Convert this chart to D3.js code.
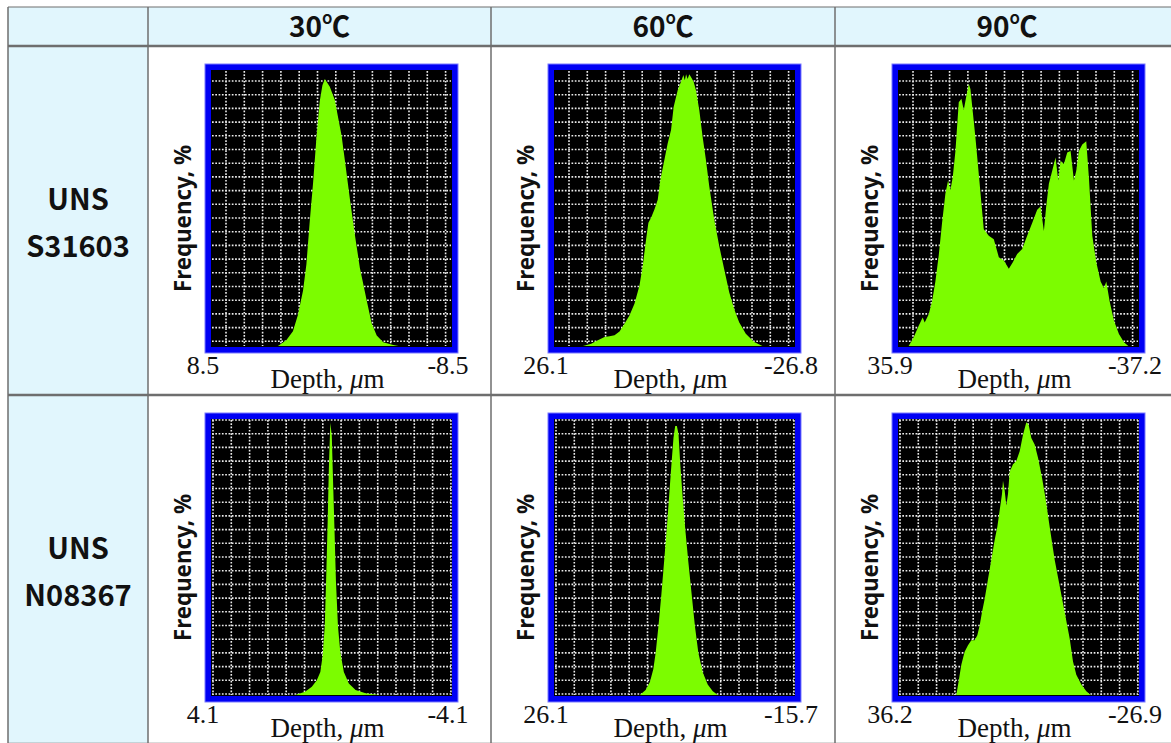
<!DOCTYPE html>
<html>
<head>
<meta charset="utf-8">
<script src="https://cdn.jsdelivr.net/npm/d3@7"></script>
<style>
  body { margin: 0; background: #fff; }
  svg { display: block; }
</style>
</head>
<body>
<script>
// Column and row headings
const temperatures = ["30℃", "60℃", "90℃"];
const alloys = [["UNS", "S31603"], ["UNS", "N08367"]];

// Depth-axis end labels (left, right) per panel, row by row
const depthLeft  = [8.5, 26.1, 35.9, 4.1, 26.1, 36.2];
const depthRight = [-8.5, -26.8, -37.2, -4.1, -15.7, -26.9];

// Depth histograms: [depth (µm), relative frequency (%)]
const s31603_30 = [
  [3.78, 0], [3.19, 2.1], [2.72, 5.4], [2.37, 11.3], [2.01, 20.2], [1.77, 29.8],
  [1.54, 45.2], [1.30, 59.5], [1.06, 76.2], [0.83, 89.3], [0.64, 95.2], [0.47, 97.4],
  [0.12, 94.6], [-0.23, 89.9], [-0.47, 83.3], [-0.71, 76.8], [-0.94, 67.9], [-1.30, 53.6],
  [-1.65, 40.5], [-2.00, 28.6], [-2.48, 16.7], [-2.83, 8.3], [-3.19, 3.8], [-3.65, 1.4],
  [-4.36, 0.4], [-4.72, 0]
];
const s31603_60 = [
  [19.75, 0], [17.93, 0.8], [16.47, 2.1], [15.0, 3.3], [13.9, 3.6], [12.82, 3.9],
  [11.72, 5.3], [10.63, 8.1], [9.54, 11.1], [8.44, 15.4], [7.35, 22.0], [6.62, 29.3],
  [5.89, 38.9], [5.38, 45.0], [4.79, 46.8], [4.06, 49.8], [3.33, 53.4], [2.75, 60.7],
  [2.02, 66.7], [1.14, 74.0], [0.41, 78.8], [-0.17, 87.3], [-1.05, 93.3], [-1.77, 96.4],
  [-2.3, 98.9], [-2.6, 97.0], [-2.9, 99.2], [-3.23, 97.4], [-3.6, 99.2], [-3.96, 98.2],
  [-4.55, 96.4], [-5.06, 93.3], [-5.79, 86.1], [-6.52, 76.4], [-7.25, 67.9], [-7.98, 58.3],
  [-9.07, 46.2], [-10.17, 36.5], [-11.26, 28.0], [-12.36, 19.6], [-13.45, 13.5],
  [-14.54, 8.7], [-16.0, 4.5], [-17.83, 1.5], [-19.65, 0]
];
const s31603_90 = [
  [32.66, 0], [31.14, 3.2], [29.62, 7.4], [28.41, 10.4], [27.8, 8.6], [26.58, 11.6],
  [25.57, 16.3], [24.56, 23.5], [23.55, 33.0], [22.54, 44.9], [21.52, 55.7], [20.71, 60.4],
  [20.0, 56.9], [19.3, 61.6], [18.48, 71.2], [17.47, 89.0], [16.66, 90.2], [15.95, 86.1],
  [15.24, 90.8], [14.43, 95.6], [13.93, 93.8], [13.22, 85.5], [12.41, 76.0], [11.4, 62.8],
  [10.69, 53.3], [9.88, 42.6], [8.36, 40.2], [6.84, 39.0], [5.32, 32.4], [3.8, 31.2],
  [2.28, 28.2], [1.07, 30.6], [-0.25, 33.6], [-1.76, 35.4], [-3.28, 40.2], [-4.8, 44.9],
  [-6.32, 49.7], [-7.33, 50.9], [-8.35, 42.0], [-9.05, 50.9], [-9.86, 59.2], [-10.88, 64.0],
  [-11.89, 68.8], [-12.7, 60.4], [-13.41, 67.6], [-14.42, 66.4], [-15.43, 70.6],
  [-16.45, 71.2], [-17.46, 60.4], [-18.17, 64.0], [-18.98, 71.2], [-19.99, 73.5],
  [-21.2, 74.7], [-22.0, 61.6], [-23.03, 40.2], [-24.24, 30.6], [-25.56, 23.5],
  [-26.57, 21.1], [-27.28, 23.5], [-28.29, 16.3], [-29.61, 9.2], [-31.12, 4.4],
  [-32.64, 1.4], [-33.96, 0]
];
const n08367_30 = [
  [1.24, 0], [0.90, 1.2], [0.67, 3.0], [0.50, 5.4], [0.38, 8.4], [0.30, 14.4],
  [0.23, 25.1], [0.18, 43.1], [0.13, 63.5], [0.09, 82.6], [0.04, 99.4], [-0.01, 94.6],
  [-0.05, 79.0], [-0.10, 61.1], [-0.15, 41.9], [-0.22, 25.1], [-0.30, 15.6], [-0.42, 8.4],
  [-0.59, 4.2], [-0.82, 1.8], [-1.16, 0.6], [-1.62, 0]
];
const n08367_60 = [
  [11.2, 0], [10.21, 1.8], [9.45, 4.8], [8.87, 9.5], [8.46, 15.5], [7.99, 25.0],
  [7.47, 36.9], [7.0, 48.8], [6.54, 60.7], [6.13, 72.6], [5.72, 84.5], [5.37, 94.0],
  [5.08, 98.2], [4.79, 98.2], [4.50, 95.2], [4.21, 84.5], [3.80, 72.6], [3.34, 60.7],
  [2.81, 48.8], [2.23, 36.9], [1.65, 25.0], [1.07, 15.5], [0.31, 8.3], [-0.56, 3.8],
  [-1.44, 1.4], [-2.31, 0]
];
const n08367_90 = [
  [20.93, 0], [20.32, 5.0], [19.62, 11.0], [18.75, 15.8], [17.87, 18.2], [17.0, 20.0],
  [16.13, 20.0], [15.43, 21.8], [14.82, 25.4], [14.21, 30.2], [13.51, 35.0], [12.64, 42.2],
  [11.76, 49.4], [10.89, 56.6], [10.19, 61.4], [9.58, 67.4], [8.97, 73.4], [8.71, 78.2],
  [8.27, 74.6], [7.84, 69.2], [7.4, 73.4], [6.96, 81.5], [6.09, 84.2], [5.22, 85.4],
  [4.34, 89.0], [3.47, 95.0], [2.6, 99.5], [1.99, 98.6], [1.29, 93.8], [0.42, 91.4],
  [-0.46, 86.6], [-1.5, 79.4], [-2.38, 72.2], [-3.51, 61.4], [-4.82, 49.4], [-6.13, 39.8],
  [-7.44, 30.2], [-8.75, 20.6], [-9.62, 12.2], [-10.49, 7.4], [-11.8, 3.8], [-13.11, 1.4],
  [-14.24, 0]
];
const histograms = [s31603_30, s31603_60, s31603_90, n08367_30, n08367_60, n08367_90];

// ---- layout ----
const W = 1171, H = 743;
const colX = [8, 148, 491, 835, 1179];
const rowY = [7, 46, 395, 744];
const headFill = "#e1f6fd";
const ruleCol = "#6e6e6e";
const frame = { dx: 57, dy: 18, w: 253, h: 289, border: 6 };
const gridStep = { x: 18.3, y: 13.7 };
const gridOffset = [[15, 11], [2, 1]];

const svg = d3.select("body").append("svg")
  .attr("width", W).attr("height", H);

// table shading
svg.append("rect")
  .attr("x", colX[0]).attr("y", rowY[0])
  .attr("width", colX[4] - colX[0]).attr("height", rowY[1] - rowY[0])
  .attr("fill", headFill);
svg.append("rect")
  .attr("x", colX[0]).attr("y", rowY[1])
  .attr("width", colX[1] - colX[0]).attr("height", rowY[3] - rowY[1])
  .attr("fill", headFill);

// table rules
const rules = svg.append("g").attr("stroke", ruleCol).attr("fill", "none");
colX.forEach(x => rules.append("line")
  .attr("x1", x).attr("x2", x).attr("y1", rowY[0]).attr("y2", rowY[3])
  .attr("stroke-width", 1.5));
rowY.forEach((y, i) => rules.append("line")
  .attr("x1", colX[0]).attr("x2", colX[4]).attr("y1", y).attr("y2", y)
  .attr("stroke-width", i === 0 ? 1.2 : 2.4));

// column headings
svg.append("g").selectAll("text").data(temperatures).join("text")
  .attr("x", (d, i) => (colX[i + 1] + colX[i + 2]) / 2)
  .attr("y", (rowY[0] + rowY[1]) / 2 + 10)
  .attr("text-anchor", "middle")
  .attr("font-family", "'Noto Sans CJK KR', 'Noto Sans', sans-serif")
  .attr("font-weight", 700)
  .attr("font-size", 28)
  .attr("fill", "#111")
  .text(d => d);

// row headings
alloys.forEach((lines, r) => {
  const cy = (rowY[r + 1] + rowY[r + 2]) / 2;
  const t = svg.append("text")
    .attr("text-anchor", "middle")
    .attr("font-family", "'Noto Sans CJK KR', 'Noto Sans', sans-serif")
    .attr("font-weight", 700)
    .attr("font-size", 29)
    .attr("fill", "#111");
  lines.forEach((s, k) => t.append("tspan")
    .attr("x", (colX[0] + colX[1]) / 2)
    .attr("y", cy - 11 + k * 47)
    .text(s));
});

const fmt = d3.formatLocale({ decimal: ".", thousands: ",", grouping: [3], currency: ["", ""], minus: "-" }).format(".1f");
const serif = "'Liberation Serif', 'DejaVu Serif', serif";

histograms.forEach((data, i) => {
  const r = Math.floor(i / 3), c = i % 3;
  const fx = colX[c + 1] + frame.dx, fy = rowY[r + 1] + frame.dy;
  const b = frame.border;
  const ix = fx + b, iy = fy + b, iw = frame.w - 2 * b, ih = frame.h - 2 * b;
  const g = svg.append("g");

  // blue frame and black plotting field
  g.append("rect").attr("x", fx).attr("y", fy).attr("width", frame.w).attr("height", frame.h)
    .attr("fill", "#0000f4").attr("stroke", "#7a7aff").attr("stroke-width", 1);
  g.append("rect").attr("x", ix).attr("y", iy).attr("width", iw).attr("height", ih)
    .attr("fill", "#000");

  const x = d3.scaleLinear().domain([depthLeft[i], depthRight[i]]).range([ix, ix + iw]);
  const y = d3.scaleLinear().domain([0, 100]).range([iy + ih - 1, iy + 2]);

  // dotted grid
  const [ox, oy] = gridOffset[r];
  const gx = d3.range(ix + ox, ix + iw - 1, gridStep.x);
  const gy = d3.range(iy + oy, iy + ih - 1, gridStep.y);
  const grid = g.append("g").attr("stroke", "#ececec").attr("stroke-width", 1.6)
    .attr("stroke-dasharray", "1.7 1.6");
  grid.selectAll(".v").data(gx).join("line").attr("class", "v")
    .attr("x1", d => d).attr("x2", d => d).attr("y1", iy + 1).attr("y2", iy + ih - 1);
  grid.selectAll(".h").data(gy).join("line").attr("class", "h")
    .attr("y1", d => d).attr("y2", d => d).attr("x1", ix + 1).attr("x2", ix + iw - 1);

  // histogram fill
  const clipId = "clip" + i;
  g.append("clipPath").attr("id", clipId).append("rect")
    .attr("x", ix).attr("y", iy).attr("width", iw).attr("height", ih);
  const area = d3.area().x(d => x(d[0])).y0(y(0)).y1(d => y(d[1]));
  g.append("path").datum(data).attr("d", area)
    .attr("fill", "#7cfc00").attr("clip-path", `url(#${clipId})`);

  // depth axis end labels
  const by = fy + frame.h;
  g.append("text").attr("x", fx - 2).attr("y", by + 21).attr("text-anchor", "middle")
    .attr("font-family", serif).attr("font-size", 26).attr("fill", "#111")
    .text(fmt(depthLeft[i]));
  g.append("text").attr("x", fx + frame.w - 10).attr("y", by + 21).attr("text-anchor", "middle")
    .attr("font-family", serif).attr("font-size", 26).attr("fill", "#111")
    .text(fmt(depthRight[i]));

  // axis titles
  const xt = g.append("text").attr("x", fx + frame.w / 2 - 4).attr("y", by + 35)
    .attr("text-anchor", "middle").attr("font-family", serif).attr("font-size", 27)
    .attr("fill", "#111");
  xt.append("tspan").text("Depth,  ");
  xt.append("tspan").attr("font-style", "italic").text("μ");
  xt.append("tspan").text("m");

  g.append("text")
    .attr("transform", `translate(${fx - 14},${fy + frame.h / 2 + 10}) rotate(-90)`)
    .attr("text-anchor", "middle")
    .attr("font-family", "'Noto Sans', sans-serif").attr("font-weight", 700)
    .attr("font-size", 24).attr("textLength", 147).attr("lengthAdjust", "spacingAndGlyphs")
    .attr("fill", "#111")
    .text("Frequency, %");
});
</script>
</body>
</html>
